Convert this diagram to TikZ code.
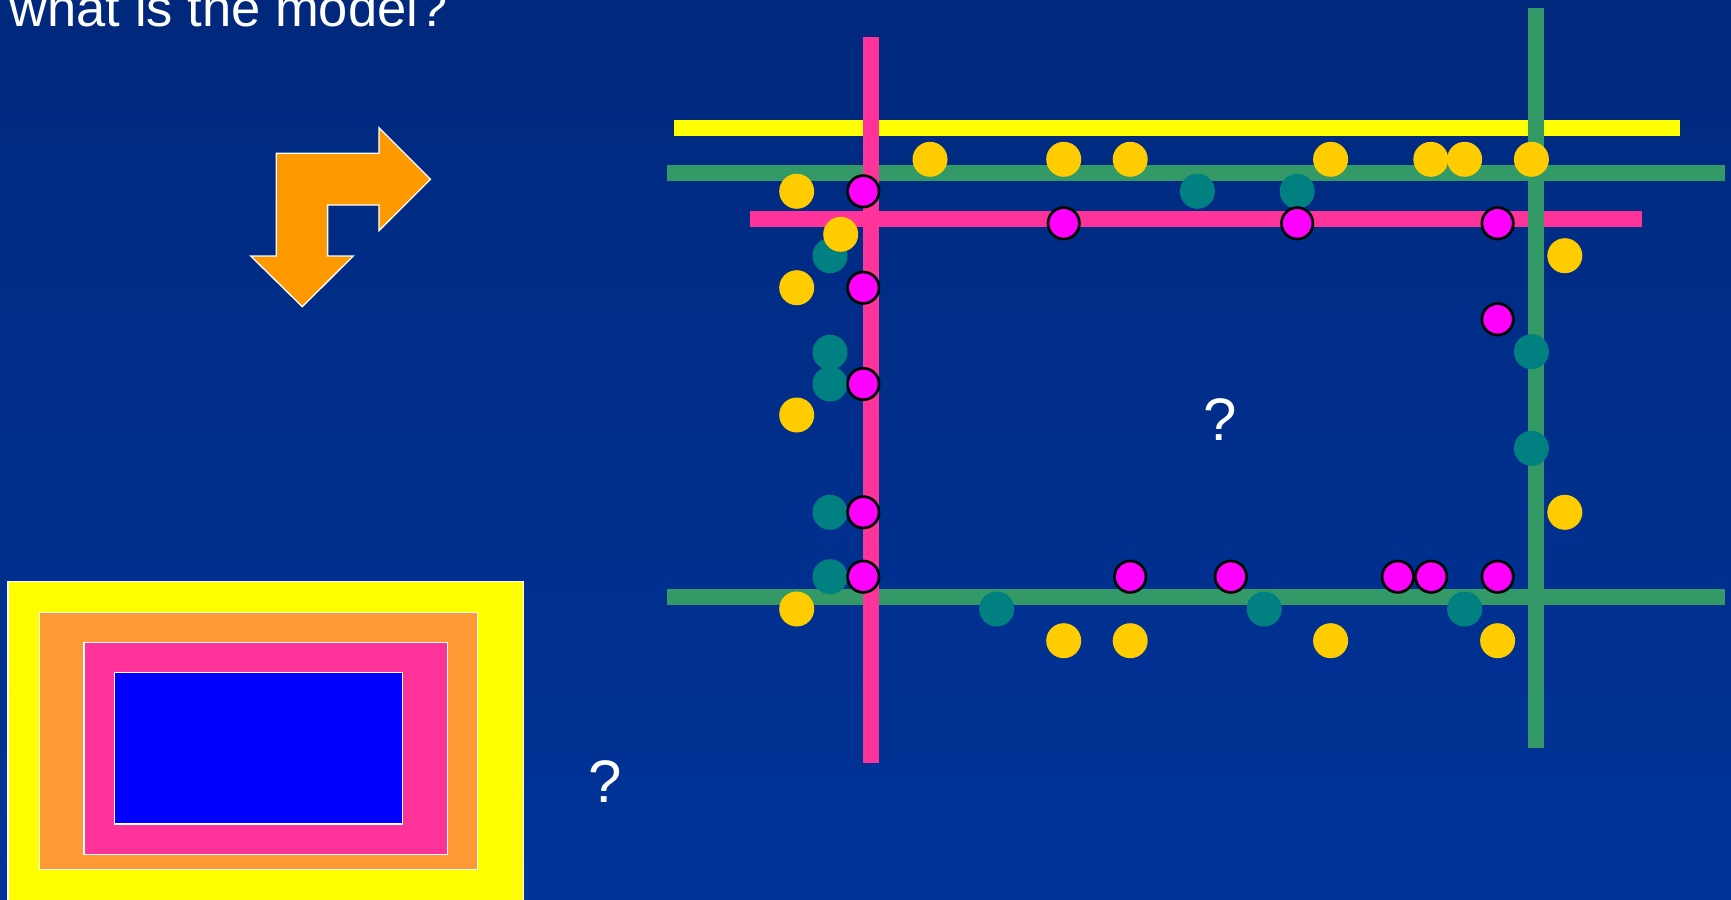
\documentclass[tikz,border=0pt]{standalone}
\usepackage{fontspec}
\setmainfont{Liberation Sans}
\definecolor{bgtop}{RGB}{0,41,125}
\definecolor{bgbot}{RGB}{0,52,153}
\definecolor{ylw}{RGB}{255,255,0}
\definecolor{grn}{RGB}{51,153,102}
\definecolor{pnk}{RGB}{255,51,153}
\definecolor{gold}{RGB}{255,204,0}
\definecolor{tealc}{RGB}{0,128,128}
\definecolor{mag}{RGB}{255,0,255}
\definecolor{arrowor}{RGB}{255,153,0}
\definecolor{rector}{RGB}{255,153,51}
\definecolor{blu}{RGB}{0,0,255}
\tikzset{
  bar/.style={line width=15.7pt},
  dotgold/.style={circle, fill=gold, minimum size=35pt, inner sep=0pt, outer sep=0pt},
  dotteal/.style={circle, fill=tealc, minimum size=35pt, inner sep=0pt, outer sep=0pt},
  dotmag/.style={circle, fill=mag, draw=black, line width=2.7pt, minimum size=31.4pt, inner sep=0pt, outer sep=0pt},
  nestbox/.style={draw=white, line width=1.3pt},
  qmark/.style={text=white, font=\fontsize{60}{70}\selectfont, inner sep=0pt, anchor=base}
}
\begin{document}
\begin{tikzpicture}[x=1pt,y=-1pt]
\useasboundingbox (0,0) rectangle (1731,899);
\clip (0,0) rectangle (1731,899);
\fill[top color=bgtop, bottom color=bgbot] (0,0) rectangle (1731,899);

% title
\node[text=white, font=\fontsize{52.5}{60}\selectfont, inner sep=0pt, anchor=base west] (title) at (9.5,27) {what is the model?};

% bent arrow
\filldraw[fill=arrowor, draw=white, line width=1.3pt, line join=miter]
  (276.3,153.3) -- (378.9,153.3) -- (378.9,127.7) -- (430.5,179.3) -- (378.9,230.7)
  -- (378.9,205) -- (327.6,205) -- (327.6,256) -- (353.2,256) -- (302.3,306.7)
  -- (250.7,256) -- (276.3,256) -- cycle;

% nested rectangles
\filldraw[nestbox, fill=ylw] (8,581.7) rectangle (523.2,905);
\filldraw[nestbox, fill=rector] (39.3,612.3) rectangle (477.6,869.3);
\filldraw[nestbox, fill=pnk] (83.9,642.7) rectangle (447.3,854.3);
\filldraw[nestbox, fill=blu] (114.7,672.7) rectangle (402.2,824);

% question marks
\node[qmark] (q1) at (605,802.7) {?};
\node[qmark] (q2) at (1220,440) {?};

% horizontal bars
\coordinate (yl1) at (674,128);   \coordinate (yl2) at (1679.5,128);
\coordinate (gt1) at (666.7,173.3); \coordinate (gt2) at (1725,173.3);
\coordinate (ph1) at (750,219);   \coordinate (ph2) at (1642,219);
\coordinate (gb1) at (666.7,597); \coordinate (gb2) at (1725,597);
\coordinate (pv1) at (871.2,37.5); \coordinate (pv2) at (871.2,763.3);
\coordinate (gv1) at (1536.2,7.7); \coordinate (gv2) at (1536.2,748.3);
\draw[bar, ylw] (yl1) -- (yl2);
\draw[bar, grn] (gt1) -- (gt2);
\draw[bar, pnk] (ph1) -- (ph2);
\draw[bar, grn] (gb1) -- (gb2);
% vertical bars
\draw[bar, pnk] (pv1) -- (pv2);
\draw[bar, grn] (gv1) -- (gv2);

% teal dots
\foreach \x/\y [count=\i] in {830/255.7, 830/352.3, 830/384, 830/512.3, 830/576.7,
  1197.4/191.3, 1297.2/191.3, 1531.4/351.7, 1531.4/448.3,
  996.7/609, 1264.2/609, 1464.6/609}
  \node[dotteal] (t\i) at (\x,\y) {};

% gold dots
\foreach \x/\y [count=\i] in {796.7/191.3, 840.7/234.3, 796.7/287.7, 796.7/415, 796.7/609,
  930/159.3, 1063.7/159.3, 1130.2/159.3, 1330.6/159.3, 1430.8/159.3, 1464.6/159.3, 1531.4/159.3,
  1564.8/255.7, 1564.8/512.3,
  1063.7/640.7, 1130.2/640.7, 1330.6/640.7, 1497.6/640.7}
  \node[dotgold] (g\i) at (\x,\y) {};

% magenta dots
\foreach \x/\y [count=\i] in {863.3/191.3, 863.3/287.7, 863.3/384, 863.3/512.3, 863.3/576.7,
  1063.7/223.3, 1297.2/223.3, 1497.6/223.3, 1497.6/319.3,
  1130.2/576.7, 1230.8/576.7, 1397.8/576.7, 1431.2/576.7, 1497.6/576.7}
  \node[dotmag] (m\i) at (\x,\y) {};
\end{tikzpicture}
\end{document}
